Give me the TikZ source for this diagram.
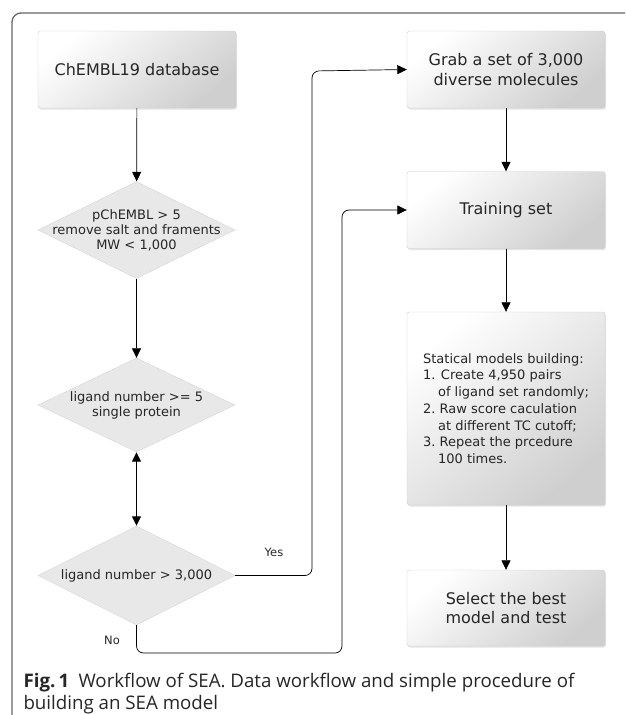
\documentclass[tikz,border=0pt]{standalone}
\usepackage{fontspec}
\setmainfont{DejaVu Sans}
\newfontfamily\capfont{Open Sans}
\usetikzlibrary{shapes.geometric,arrows.meta,shadows}

\begin{document}
\begin{tikzpicture}[x=1pt,y=-1pt,>={Triangle[length=9.5pt,width=9pt]},
    stepbox/.style={rectangle,rounded corners=2.5pt,draw=black!20,top color=white,bottom color=black!19,shading angle=40,
        minimum width=198pt,minimum height=77pt,inner sep=0pt,align=center,text=black!85,
        font=\fontsize{16}{19.5}\selectfont,drop shadow={opacity=0.22,shadow xshift=1pt,shadow yshift=-1.5pt}},
    decision/.style={diamond,draw=black!16,fill=black!9,minimum width=197pt,minimum height=97pt,inner sep=0pt},
    dectext/.style={font=\fontsize{13}{15}\selectfont,align=center,text=black!85},
    flow/.style={->,line width=0.7pt},
    answer/.style={font=\fontsize{11.5}{14}\selectfont,text=black!85}]
    \useasboundingbox (0,0) rectangle (625,715);
    % frame
    \draw[black!60,line width=1.3pt,rounded corners=9pt] (12,715) -- (12,13) -- (625,13);
    % left column
    \node[stepbox] (db) at (137,69.5) {ChEMBL19 database};
    \node[decision,label={[dectext]center:pChEMBL > 5\\remove salt and framents\\MW < 1,000}] (filter) at (136.5,230) {};
    \node[decision,minimum height=94pt,label={[dectext]center:ligand number >= 5\\single protein}] (target) at (136.5,405) {};
    \node[decision,minimum height=99pt,label={[dectext]center:ligand number > 3,000}] (size) at (136.5,575.5) {};
    % right column
    \node[stepbox] (grab) at (506,69.5) {Grab a set of 3,000\\diverse molecules};
    \node[stepbox] (train) at (506,210) {Training set};
    \node[stepbox,minimum height=193pt,font=\fontsize{13}{16.7}\selectfont,align=left] (stat) at (506,408.5) {Statical models building:\\
        1. Create 4,950 pairs\\\hspace*{15pt}of ligand set randomly;\\
        2.\ Raw score caculation\\\hspace*{15pt}at different TC cutoff;\\
        3.\ Repeat the prcedure\\\hspace*{15pt}100 times.};
    \node[stepbox,minimum height=76pt] (select) at (506,608) {Select the best\\model and test};
    % bends
    \coordinate (yesbend) at (312,71);
    \coordinate (nobend) at (342,653);
    % connectors
    \draw[flow] (db) -- (filter);
    \draw[flow] (filter) -- (target);
    \draw[<->,line width=1.3pt] (target) -- (size);
    \draw[flow,rounded corners=7pt] (size.east) -| (yesbend) -- (grab.west);
    \draw[flow,rounded corners=7pt] (size.south) |- (nobend) |- (train.west);
    \draw[flow] (grab) -- (train);
    \draw[flow] (train) -- (stat);
    \draw[flow] (stat) -- (select);
    \node[answer] (yes) at (274,552) {Yes};
    \node[answer] (no) at (112,640) {No};
    % caption
    \node[anchor=west,align=left,text=black!85,font=\capfont\fontsize{18.7}{22}\selectfont] (caption) at (20,694)
        {\textbf{Fig.\,1}\enspace Workflow of SEA. Data workflow and simple procedure of\\building an SEA model};
\end{tikzpicture}
\end{document}
